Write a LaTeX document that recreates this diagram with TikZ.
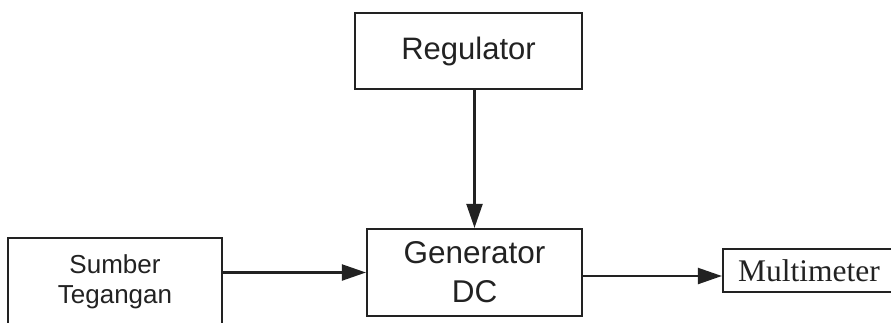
\documentclass[tikz,border=0pt]{standalone}
\usepackage{fontspec}
\setmainfont{Liberation Sans}
\newfontfamily\timesfont{Liberation Serif}
\usetikzlibrary{arrows.meta,calc}
\definecolor{ink}{HTML}{222222}
\begin{document}
\begin{tikzpicture}[x=1pt,y=-1pt,
  blk/.style={draw=ink,line width=2.2pt,inner sep=0pt,align=center,text=ink},
  arr/.style={draw=ink,line width=2.2pt,-{Triangle[length=24pt,width=16pt]}}]
\useasboundingbox (0,0) rectangle (891,322);
\clip (0,0) rectangle (891,322);
\node[blk,minimum width=227pt,minimum height=76pt,font=\fontsize{31}{36}\selectfont] (reg) at (468.5,51) {Regulator};
\node[blk,minimum width=215pt,minimum height=87pt,font=\fontsize{31.5}{39}\selectfont] (gen) at (474.5,272.5) {Generator\\DC};
\node[blk,minimum width=214pt,minimum height=88pt,font=\fontsize{26}{30}\selectfont] (src) at (115,282) {Sumber\\Tegangan};
\node[blk,minimum width=172pt,minimum height=43pt,font=\timesfont\fontsize{31.5}{36}\selectfont] (mm) at (809,270.5) {Multimeter};
\draw[arr] (reg.south -| gen.north) -- (gen.north);
\draw[arr] (src.east |- gen.west) -- (gen.west);
\draw[arr] ($(gen.east)+(0,3.5)$) -- ($(mm.west |- gen.east)+(0,3.5)$);
\end{tikzpicture}
\end{document}
